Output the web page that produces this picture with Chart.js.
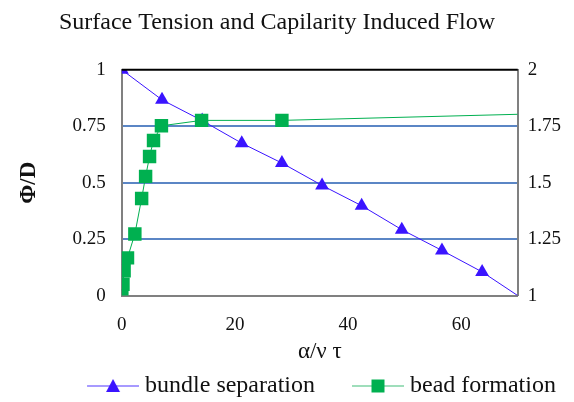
<!DOCTYPE html>
<html>
<head>
<meta charset="utf-8">
<script src="https://cdn.jsdelivr.net/npm/chart.js@4"></script>
<style>
  html, body { margin: 0; padding: 0; background: #fff; }
  #wrap { width: 574px; height: 402px; }
</style>
</head>
<body>
<div id="wrap"><canvas id="my-chart" width="574" height="402"></canvas></div>
<script>
// * Surface tension and capilarity induced flow chart

const bundleX = [0, 7.1, 14.2, 21.2, 28.3, 35.4, 42.4, 49.5, 56.6, 63.7, 70]
const bundleY = [1, 0.867, 0.775, 0.675, 0.587, 0.488, 0.398, 0.292, 0.2, 0.105, 0]
const beadX = [0, 0.2, 0.4, 1.0, 2.3, 3.5, 4.2, 4.9, 5.6, 7.0, 14.1, 28.3, 70]
const beadY = [0, 0.05, 0.11, 0.167, 0.273, 0.43, 0.528, 0.616, 0.687, 0.752, 0.776, 0.776, 0.803]
const leftTicks = [0, 0.25, 0.5, 0.75, 1]
const rightTicks = [1, 1.25, 1.5, 1.75, 2]
const xTicks = [0, 20, 40, 60]

const blue = '#3a14ff'
const green = '#00b050'
const serif = "'Liberation Serif', 'Times New Roman', serif"

const toPoints = (xs, ys) => xs.map((x, i) => ({ x: x, y: ys[i] }))

// legend swatch: a 52px line with the marker in the middle, sitting at the
// right end of a wider transparent image (the blank part spaces the items)
const swatchW = 95
const legendBoxW = swatchW - 12
function swatch(color, lineColor, shape) {
    const c = document.createElement('canvas')
    c.width = swatchW
    c.height = 16
    const g = c.getContext('2d')
    const x0 = swatchW - 52
    g.strokeStyle = lineColor
    g.lineWidth = 1.5
    g.beginPath()
    g.moveTo(x0, 8)
    g.lineTo(swatchW, 8)
    g.stroke()
    g.fillStyle = color
    g.beginPath()
    if (shape === 'triangle') {
        g.moveTo(x0 + 26, 1)
        g.lineTo(x0 + 33, 14)
        g.lineTo(x0 + 19, 14)
    } else {
        g.rect(x0 + 19.5, 1.5, 13, 13)
    }
    g.closePath()
    g.fill()
    return c
}

const swatches = [
    swatch(blue, '#8a78ff', 'triangle'),
    swatch(green, '#7fd3a5', 'rect')
]

const ctx = document.getElementById('my-chart')

new Chart(ctx, {
    type: 'scatter',
    data: {
        datasets: [
            {
                label: 'bundle separation',
                data: toPoints(bundleX, bundleY),
                showLine: true,
                borderColor: blue,
                backgroundColor: blue,
                borderWidth: 1,
                pointStyle: 'triangle',
                pointRadius: bundleX.map((x) => (x >= 70 ? 0 : 8)),
                pointBorderWidth: 0,
                order: 1, // drawn under the green squares
                yAxisID: 'y'
            },
            {
                label: 'bead formation',
                data: toPoints(beadX, beadY),
                showLine: true,
                borderColor: green,
                backgroundColor: green,
                borderWidth: 1,
                pointStyle: 'rect',
                pointRadius: beadX.map((x) => (x >= 70 ? 0 : 9.5)),
                pointBorderWidth: 0,
                order: 0,
                yAxisID: 'y'
            }
        ]
    },
    options: {
        responsive: false,
        animation: false,
        layout: { padding: { left: 11, right: 7, top: 0, bottom: -6 } },
        plugins: {
            title: {
                display: true,
                // trailing spaces nudge the centred title a little to the left
                text: 'Surface Tension and Capilarity Induced Flow    ',
                color: '#111',
                font: { family: serif, size: 24, weight: 'normal' },
                padding: { top: 8, bottom: 33 }
            },
            legend: {
                position: 'bottom',
                labels: {
                    usePointStyle: true,
                    pointStyleWidth: legendBoxW,
                    color: '#111',
                    font: { family: serif, size: 24 },
                    padding: 0,
                    generateLabels: (chart) =>
                        chart.data.datasets.map((ds, i) => ({
                            text: ds.label,
                            pointStyle: swatches[i],
                            datasetIndex: i,
                            fontColor: '#111',
                            hidden: false
                        }))
                }
            },
            tooltip: { enabled: false }
        },
        scales: {
            x: {
                type: 'linear',
                min: 0,
                max: 70,
                afterBuildTicks: (axis) => { axis.ticks = xTicks.map((v) => ({ value: v })) },
                grid: { display: false, drawTicks: false },
                border: { color: '#808080', width: 2 },
                ticks: {
                    color: '#111',
                    font: { family: serif, size: 19 },
                    padding: 18,
                    callback: (v) => String(v)
                },
                title: {
                    display: true,
                    text: 'α/ν τ',
                    color: '#111',
                    font: { family: serif, size: 23 },
                    padding: { top: -16, bottom: 8 }
                }
            },
            y: {
                position: 'left',
                min: 0,
                max: 1,
                afterBuildTicks: (axis) => { axis.ticks = leftTicks.map((v) => ({ value: v })) },
                grid: {
                    drawTicks: false,
                    lineWidth: 2,
                    color: (c) => (c.tick && (c.tick.value === 0 || c.tick.value === 1) ? 'rgba(0,0,0,0)' : '#5b86c5')
                },
                border: { color: '#808080', width: 2 },
                ticks: {
                    color: '#111',
                    font: { family: serif, size: 19 },
                    padding: 16,
                    callback: (v) => String(v)
                },
                title: {
                    display: true,
                    text: 'Φ/D',
                    color: '#111',
                    font: { family: serif, size: 23, weight: 'bold' },
                    padding: { bottom: 14 }
                }
            },
            y1: {
                position: 'right',
                min: 1,
                max: 2,
                afterBuildTicks: (axis) => { axis.ticks = rightTicks.map((v) => ({ value: v })) },
                grid: { display: false, drawTicks: true, tickLength: 4, color: '#808080' },
                border: { color: '#808080', width: 2 },
                ticks: {
                    color: '#111',
                    font: { family: serif, size: 19 },
                    padding: 6,
                    callback: (v) => String(v)
                }
            }
        }
    },
    plugins: [
        {
            // slide the legend row a bit to the right, like the original
            id: 'legendShift',
            afterLayout(chart) {
                if (chart.legend) {
                    chart.legend.left += 14
                    chart.legend.right += 14
                }
            }
        },
        {
            // black line along the top of the plot area
            id: 'topBorder',
            afterDatasetsDraw(chart) {
                const a = chart.chartArea
                const g = chart.ctx
                g.save()
                g.strokeStyle = '#000'
                g.lineWidth = 2
                g.beginPath()
                g.moveTo(a.left, a.top)
                g.lineTo(a.right, a.top)
                g.stroke()
                g.restore()
            }
        }
    ]
})
</script>
</body>
</html>
